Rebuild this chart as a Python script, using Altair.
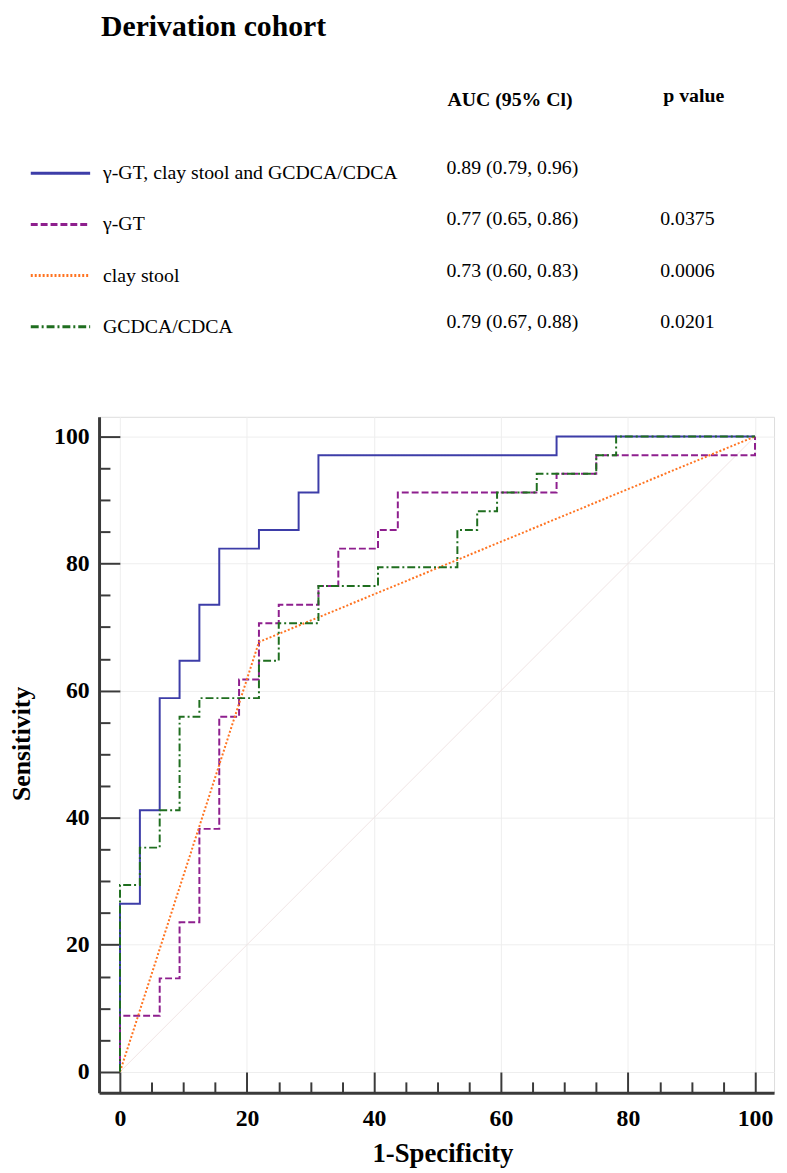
import altair as alt
import pandas as pd

FONT = "Liberation Serif"

# ---------------- data ----------------
title_text = "Derivation cohort"
header_auc = "AUC (95% Cl)"
header_p = "p value"

series = ["combined", "ggt", "clay", "gcdca"]
labels = ["γ-GT, clay stool and GCDCA/CDCA", "γ-GT", "clay stool", "GCDCA/CDCA"]
auc_text = ["0.89 (0.79, 0.96)", "0.77 (0.65, 0.86)", "0.73 (0.60, 0.83)", "0.79 (0.67, 0.88)"]
p_text = ["", "0.0375", "0.0006", "0.0201"]
colors = ["#3d3da8", "#8e1f8e", "#ff7320", "#1f6e1f"]
dashes = [[1, 0], [7, 3], [2, 2], [8, 3, 2, 3]]

# ROC vertices (1-Specificity, Sensitivity)
combined_x = [0, 0, 3.13, 3.13, 6.25, 6.25, 9.38, 9.38, 12.5, 12.5, 15.63, 15.63,
              21.88, 21.88, 28.13, 28.13, 31.25, 31.25, 68.75, 68.75, 100]
combined_y = [0, 26.47, 26.47, 41.18, 41.18, 58.82, 58.82, 64.71, 64.71, 73.53, 73.53, 82.35,
              82.35, 85.29, 85.29, 91.18, 91.18, 97.06, 97.06, 100, 100]

ggt_x = [0, 0, 6.25, 6.25, 9.38, 9.38, 12.5, 12.5, 15.63, 15.63, 18.75, 18.75, 21.88, 21.88,
         25, 25, 31.25, 31.25, 34.38, 34.38, 40.63, 40.63, 43.75, 43.75, 68.75, 68.75,
         75, 75, 100, 100]
ggt_y = [0, 8.82, 8.82, 14.71, 14.71, 23.53, 23.53, 38.24, 38.24, 55.88, 55.88, 61.76, 61.76,
         70.59, 70.59, 73.53, 73.53, 76.47, 76.47, 82.35, 82.35, 85.29, 85.29, 91.18, 91.18,
         94.12, 94.12, 97.06, 97.06, 100]

clay_x = [0, 21.88, 100]
clay_y = [0, 67.65, 100]

gcdca_x = [0, 0, 3.13, 3.13, 6.25, 6.25, 9.38, 9.38, 12.5, 12.5, 21.88, 21.88, 25, 25,
           31.25, 31.25, 40.63, 40.63, 53.13, 53.13, 56.25, 56.25, 59.38, 59.38, 65.63, 65.63,
           75, 75, 78.13, 78.13, 100]
gcdca_y = [0, 29.41, 29.41, 35.29, 35.29, 41.18, 41.18, 55.88, 55.88, 58.82, 58.82, 64.71,
           64.71, 70.59, 70.59, 76.47, 76.47, 79.41, 79.41, 85.29, 85.29, 88.24, 88.24, 91.18,
           91.18, 94.12, 94.12, 97.06, 97.06, 100, 100]

diag_x = [0, 100]
diag_y = [0, 100]

major_ticks = [0, 20, 40, 60, 80, 100]
minor_ticks = [5, 10, 15, 25, 30, 35, 45, 50, 55, 65, 70, 75, 85, 90, 95]

# ---------------- tables ----------------
curves = {"combined": (combined_x, combined_y), "ggt": (ggt_x, ggt_y),
          "clay": (clay_x, clay_y), "gcdca": (gcdca_x, gcdca_y)}
frames = []
for s in series:
    xs, ys = curves[s]
    frames.append(pd.DataFrame({"series": s, "fpr": xs, "sens": ys, "idx": range(len(xs))}))
lines_df = pd.concat(frames, ignore_index=True)
diag_df = pd.DataFrame({"fpr": diag_x, "sens": diag_y})
table_df = pd.DataFrame({"series": series, "label": labels, "auc": auc_text,
                         "p": p_text, "row": range(len(series))})

# ---------------- scales ----------------
XDOM = [-3.3, 103.0]
YDOM = [-3.3, 103.1]
W, H = 682, 683
AX = "#3a3a3a"

cscale = alt.Scale(domain=series, range=colors)
dscale = alt.Scale(domain=series, range=dashes)


def xs_(axis=None):
    return alt.X("fpr:Q", scale=alt.Scale(domain=XDOM, nice=False, zero=False),
                 axis=axis)


def ys_(axis=None):
    return alt.Y("sens:Q", scale=alt.Scale(domain=YDOM, nice=False, zero=False),
                 axis=axis)


x_axis_main = alt.Axis(orient="bottom", values=major_ticks, ticks=False, tickSize=0,
                       domain=True, domainColor=AX, domainWidth=3,
                       labelFont=FONT, labelFontSize=24, labelFontWeight="bold",
                       labelColor="#000000", labelPadding=14, labelFlush=False,
                       grid=True, gridColor="#eeeeee", gridWidth=1,
                       title="1-Specificity", titleFont=FONT, titleFontSize=27,
                       titleFontWeight="bold", titleColor="#000000",
                       titleX=347, titleY=69, titleBaseline="alphabetic",
                       titleAlign="center")
y_axis_main = alt.Axis(orient="left", values=major_ticks, ticks=False, tickSize=0,
                       domain=True, domainColor=AX, domainWidth=3,
                       labelFont=FONT, labelFontSize=24, labelFontWeight="bold",
                       labelColor="#000000", labelPadding=10, labelFlush=False,
                       grid=True, gridColor="#eeeeee", gridWidth=1,
                       title="Sensitivity", titleFont=FONT, titleFontSize=26,
                       titleFontWeight="bold", titleColor="#000000",
                       titleX=-70, titleY=330, titleBaseline="alphabetic",
                       titleAlign="center", titleAngle=270)


def tick_axis(orient, vals, size):
    return alt.Axis(orient=orient, values=vals, ticks=True, tickSize=size, tickWidth=2,
                    tickColor=AX, domain=False, labels=False, grid=False, title=None,
                    offset=-size)


# diagonal reference line carrying the main axes + grid
diag = alt.Chart(diag_df).mark_line(color="#f0e4e4", strokeWidth=1).encode(
    x=xs_(x_axis_main), y=ys_(y_axis_main))

major = alt.Chart(diag_df).mark_line(opacity=0).encode(
    x=xs_(tick_axis("bottom", major_ticks, 21)), y=ys_(tick_axis("left", major_ticks, 21)))
minor = alt.Chart(diag_df).mark_line(opacity=0).encode(
    x=xs_(tick_axis("bottom", minor_ticks, 11)), y=ys_(tick_axis("left", minor_ticks, 11)))

curve_layers = []
for s in series:
    curve_layers.append(
        alt.Chart(lines_df).transform_filter(alt.datum.series == s)
        .mark_line(strokeWidth=2)
        .encode(x=xs_(), y=ys_(), order="idx:Q",
                color=alt.Color("series:N", scale=cscale, legend=None),
                strokeDash=alt.StrokeDash("series:N", scale=dscale, legend=None))
    )

row_y = alt.Y("row:Q", scale=alt.Scale(domain=[0, 3], range=[-246, -91]), axis=None)

legend_lines = alt.Chart(table_df).mark_rule(strokeWidth=3).encode(
    x=alt.value(-69), x2=alt.value(-9), y=row_y,
    color=alt.Color("series:N", scale=cscale, legend=None),
    strokeDash=alt.StrokeDash("series:N", scale=dscale, legend=None))

txt = dict(font=FONT, fontSize=20, color="#000000", align="left", baseline="alphabetic")
legend_labels = alt.Chart(table_df).mark_text(dy=6, **txt).encode(
    x=alt.value(4), y=row_y, text="label:N")
auc_vals = alt.Chart(table_df).mark_text(dy=1, **txt).encode(
    x=alt.value(351), y=row_y, text="auc:N")
p_vals = alt.Chart(table_df).mark_text(dy=1, **txt).encode(
    x=alt.value(567), y=row_y, text="p:N")

head_df = pd.DataFrame({"t": [title_text], "a": [header_auc], "p": [header_p]})
title_mark = alt.Chart(head_df).mark_text(font=FONT, fontSize=30, fontWeight="bold",
                                          color="#000000", align="left",
                                          baseline="alphabetic").encode(
    x=alt.value(2), y=alt.value(-385), text="t:N")
head_auc = alt.Chart(head_df).mark_text(fontWeight="bold", **txt).encode(
    x=alt.value(352), y=alt.value(-314), text="a:N")
head_p = alt.Chart(head_df).mark_text(fontWeight="bold", **txt).encode(
    x=alt.value(570), y=alt.value(-318), text="p:N")

chart = alt.layer(
    diag, major, minor, *curve_layers,
    legend_lines, legend_labels, auc_vals, p_vals, title_mark, head_auc, head_p
).resolve_scale(x="independent", y="independent").resolve_axis(
    x="independent", y="independent"
).properties(
    width=W, height=H,
    autosize=alt.AutoSizeParams(type="none"),
    padding={"left": 92, "top": 407, "right": 5, "bottom": 75},
).configure_view(stroke=None).configure(background="#ffffff")

chart.save("out.html", embed_options={"renderer": "svg", "actions": False})
